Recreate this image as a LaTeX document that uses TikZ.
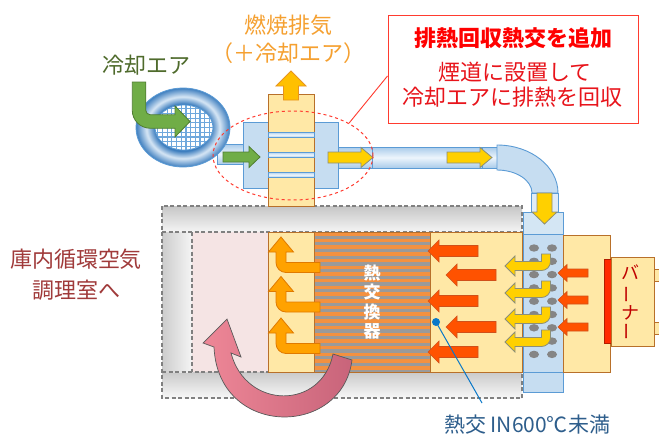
\documentclass[tikz,border=0pt]{standalone}
\usepackage{fontspec}
\setmainfont{Noto Sans CJK JP}
\usetikzlibrary{shapes.geometric}

\definecolor{cream}{HTML}{FFE8A6}
\definecolor{brownline}{HTML}{B8702A}
\definecolor{hestripe}{HTML}{F39140}
\definecolor{hegray}{HTML}{9A9A9A}
\definecolor{ductfill}{HTML}{C6DDF1}
\definecolor{ductline}{HTML}{5B9BD5}
\definecolor{ductlight}{HTML}{EDF5FC}
\definecolor{ductmid}{HTML}{A9CBEA}
\definecolor{fandark}{HTML}{3F7FBF}
\definecolor{fanlight}{HTML}{D6E6F5}
\definecolor{meshblue}{HTML}{6FA8DC}
\definecolor{flame}{HTML}{FF5200}
\definecolor{flameline}{HTML}{D0501A}
\definecolor{burnerred}{HTML}{FF2A00}
\definecolor{hotair}{HTML}{FFA200}
\definecolor{hotairline}{HTML}{E07A00}
\definecolor{exhaust}{HTML}{FFD000}
\definecolor{exhaustline}{HTML}{8C8F78}
\definecolor{fluegas}{HTML}{FFC000}
\definecolor{fluegasline}{HTML}{E8951F}
\definecolor{coolair}{HTML}{70AD47}
\definecolor{coolairline}{HTML}{507E32}
\definecolor{pinkroom}{HTML}{F5E4E4}
\definecolor{pinklight}{HTML}{EE8797}
\definecolor{pinkdark}{HTML}{C8647A}
\definecolor{casing}{HTML}{808080}
\definecolor{txtgreen}{HTML}{4F6B2C}
\definecolor{txtorange}{HTML}{F5A030}
\definecolor{calloutred}{HTML}{FF3B2F}
\definecolor{txtred}{HTML}{E8141B}
\definecolor{txtmaroon}{HTML}{A03A3A}
\definecolor{txtblue}{HTML}{2E5E8C}
\definecolor{leaderblue}{HTML}{0A78C8}
\definecolor{burnertxt}{HTML}{C00000}
\definecolor{holegray}{HTML}{858585}

% blower housing: dark rim, light band in the middle of the ring
\pgfdeclareradialshading{fanring}{\pgfpoint{0bp}{0bp}}{%
  color(0bp)=(fandark); color(15bp)=(fandark); color(19.5bp)=(fanlight);
  color(25bp)=(fandark); color(50bp)=(fandark)}

\tikzset{
  % straight block arrow, tip at the origin, pointing to -x
  pics/arrowbody/.style args={#1/#2/#3/#4}{code={
    \path[pic actions] (0,0) -- (#4,-#3) -- (#4,-#2) -- (#1,-#2) -- (#1,#2)
      -- (#4,#2) -- (#4,#3) -- cycle;}},
  % hook arrow: comes in from the right, turns upward
  pics/hookup/.style={code={
    \path[pic actions] (39,-5) -- (5,-5) -- (5,-15.5) -- (12.5,-15.5) -- (0,-30.5)
      -- (-12.5,-15.5) -- (-5,-15.5) -- (-5,-5)
      arc[start angle=180, end angle=90, radius=10] -- (39,5) -- cycle;}},
  % hook arrow: comes down from above, turns to the left
  pics/hookleft/.style={code={
    \path[pic actions] (-4.5,-12) -- (4.5,-12) -- (4.5,-4.5)
      arc[start angle=0, end angle=90, radius=9] -- (-31,4.5) -- (-31,10)
      -- (-41,0) -- (-31,-10) -- (-31,-4.5) -- (-4.5,-4.5) -- cycle;}},
  ductbox/.style={fill=ductfill, draw=ductline, line width=0.9pt},
  ductpipe/.style={top color=ductmid, bottom color=ductmid, middle color=ductlight,
    draw=ductline, line width=0.9pt},
  creambox/.style={fill=cream, draw=brownline, line width=1pt},
  casingdash/.style={draw=casing, dash pattern=on 4pt off 2.5pt, line width=1.1pt},
  flamearrow/.style={fill=flame, draw=flameline, line width=0.6pt},
  hotarrow/.style={fill=hotair, draw=hotairline, line width=0.8pt},
  exhaustarrow/.style={fill=exhaust, draw=exhaustline, line width=0.8pt},
  coolarrow/.style={fill=coolair, draw=coolairline, line width=0.8pt},
  jp/.style={font=\fontsize{22}{26}\selectfont},
}

\begin{document}
\begin{tikzpicture}[x=1pt,y=-1pt]
\fill[white] (0,0) rectangle (659,434);
\useasboundingbox (0,0) rectangle (659,434);

% ---------- oven casing ----------
\shade[top color=gray!45, bottom color=gray!8] (162,206) rectangle (522,232);
\shade[top color=gray!42, bottom color=gray!6] (162,372) rectangle (522,398);
\shade[left color=gray!40, right color=gray!8] (162,232) rectangle (192,372);
\fill[pinkroom] (192,232) rectangle (268,372);
\draw[casingdash] (162,206) rectangle (522,398);
\draw[casingdash] (162,232) -- (522,232);
\draw[casingdash] (162,372) -- (522,372);
\draw[casingdash] (192,232) -- (192,372);

% air column, heat exchanger, combustion chamber
\draw[creambox] (268,232) rectangle (314,372);
\begin{scope}
  \clip (314,232) rectangle (430,372);
  \fill[hestripe] (314,232) rectangle (430,372);
  \foreach \i in {0,...,20}
    \fill[hegray] (314,{235.5+6.7*\i}) rectangle (430,{238.7+6.7*\i});
\end{scope}
\draw[brownline, line width=1pt] (314,232) rectangle (430,372);
\draw[creambox] (430,232) rectangle (522,372);

\node[text=white, font=\fontsize{17}{19.5}\selectfont\bfseries, align=center,
  inner sep=0] (hename) at (372,302) {熱\\交\\換\\器};

% circulation arrow
\path[draw=gray!70!black, line width=0.7pt, left color=pinklight, right color=pinkdark]
  (352,360) .. controls (342,438) and (218,438) .. (214,347) -- (203,343)
  -- (227,319) -- (241,357) -- (231,353)
  .. controls (246,410) and (322,410) .. (333,354) -- cycle;

% hot air rising in the air column
\foreach \y in {267.5,307,348.5}
  \pic[hotarrow] at (281,\y) {hookup};

% flame arrows in the combustion chamber
\pic[flamearrow] at (428,251) {arrowbody=50/5.5/11/11};
\pic[flamearrow] at (446,275) {arrowbody=50/5.5/11/11};
\pic[flamearrow] at (428,301) {arrowbody=50/5.5/11/11};
\pic[flamearrow] at (446,327) {arrowbody=50/5.5/11/11};
\pic[flamearrow] at (428,352) {arrowbody=50/5.5/11/11};

% ---------- flue with exhaust heat recovery ----------
\draw[ductbox] (243,122) rectangle (268,188);
\draw[ductbox] (314,122) rectangle (338,188);
\draw[creambox] (268,94) rectangle (314,206);
\foreach \y in {132,152,172}
  \draw[ductline, line width=0.8pt, top color=ductmid, bottom color=ductmid,
    middle color=ductlight] (268,\y) rectangle (314,\y+5.5);
\pic[rotate=-90, fill=fluegas, draw=fluegasline, line width=0.8pt]
  at (291,71) {arrowbody=29/7.5/15/15};

% cooling air duct and blower
\draw[ductpipe] (217,144) rectangle (243,164);
\shade[shading=fanring, even odd rule]
  (183,127.5) ellipse[x radius=47, y radius=39.5]
  (184,127.5) ellipse[x radius=29, y radius=22.5];
\begin{scope}
  \clip (184,127.5) ellipse[x radius=29, y radius=22.5];
  \fill[white] (150,100) rectangle (220,155);
  \foreach \g in {0,...,14} {
    \draw[meshblue, line width=1.2pt] ({153+4.7*\g},100) -- ++(0,60);
    \draw[meshblue, line width=1.2pt] (150,{104+4.7*\g}) -- ++(75,0);
  }
\end{scope}
\draw[ductline, line width=0.8pt] (183,127.5) ellipse[x radius=47, y radius=39.5];
\draw[ductline, line width=0.8pt] (184,127.5) ellipse[x radius=29, y radius=22.5];
\path[coolarrow, shift={(139,121.5)}]
  (-6.75,-39.5) -- (6.75,-39.5) -- (6.75,-11.25)
  arc[start angle=180, end angle=90, radius=4.5] -- (36,-6.75) -- (36,-15.5)
  -- (51,0) -- (36,15.5) -- (36,6.75) -- (11.25,6.75)
  arc[start angle=90, end angle=180, radius=18] -- cycle;
\pic[rotate=180, coolarrow] at (260,157) {arrowbody=37/5/10.5/11};

% warmed air duct to the burner
\draw[ductpipe] (338,147) rectangle (497,168);
\draw[ductline, line width=0.9pt] (372,147) -- (372,168);
\draw[ductline, line width=0.9pt] (482,147) -- (482,168);
\draw[ductbox] (497,145) arc[start angle=-90, end angle=0, x radius=61, y radius=48]
  -- (532,193) arc[start angle=0, end angle=-90, x radius=35, y radius=23] -- cycle;
\draw[ductbox, fill=ductfill!55!white] (531,193) rectangle (558,212);
\pic[rotate=180, exhaustarrow] at (373,157.5) {arrowbody=45/5.5/10/12};
\pic[rotate=180, exhaustarrow] at (492,157.5) {arrowbody=45/5.5/10/12};

% perforated air jacket
\draw[ductbox, fill=ductfill!75!white] (523,212) rectangle (563,234);
\draw[ductbox] (523,234) rectangle (563,372);
\draw[ductbox] (523,372) rectangle (563,392);
\foreach \k in {0,...,8} {
  \fill[holegray] (534,{248+13.3*\k}) ellipse[x radius=5, y radius=3.7];
  \fill[holegray] (552,{248+13.3*\k}) ellipse[x radius=5, y radius=3.7];
}
\pic[rotate=90, exhaustarrow] at (544.5,224) {arrowbody=31/7.5/12.5/12};
\foreach \y in {266,293,319,342}
  \pic[exhaustarrow] at (546,\y) {hookleft};

% burner
\draw[creambox] (563,235) rectangle (610,372);
\draw[fill=burnerred, draw=burnerred!70!black, line width=0.6pt] (604,259) rectangle (611,343);
\draw[creambox] (654,269) rectangle (664,281);
\draw[creambox] (654,322) rectangle (664,334);
\draw[creambox] (611,257) rectangle (654,346);
\pic[flamearrow] at (558,273) {arrowbody=30/4/8.5/9};
\pic[flamearrow] at (558,300) {arrowbody=30/4/8.5/9};
\pic[flamearrow] at (558,327) {arrowbody=30/4/8.5/9};
\begin{scope}[text=burnertxt, font=\fontsize{18}{20}\selectfont]
  \node (bn1) at (630,272.5) {バ};
  \node[rotate=90] (bn2) at (630,294) {ー};
  \node (bn3) at (630,312.5) {ナ};
  \node[rotate=90] (bn4) at (630,331) {ー};
\end{scope}

% ---------- labels ----------
\node[ellipse, draw=calloutred, dashed, line width=1pt, inner sep=0,
  minimum width=160pt, minimum height=89pt] (ring) at (293,155.5) {};
\node[draw=calloutred, line width=1pt, fill=white, minimum width=250pt,
  minimum height=108pt] (callout) at (513,69) {};
\draw[calloutred, line width=0.9pt] ([yshift=-7pt]callout.west) -- (ring.30.6);
\node[jp, text=red, font=\fontsize{22}{26}\selectfont\bfseries] (ctitle) at (513,38) {排熱回収熱交を追加};
\node[jp, text=txtred] (cline1) at (515,72) {煙道に設置して};
\node[jp, text=txtred] (cline2) at (512,97) {冷却エアに排熱を回収};

\node[jp, text=txtgreen] (coollabel) at (146.5,65) {冷却エア};
\node[jp, text=txtorange] (flue1) at (288.5,25) {燃焼排気};
\node[jp, text=txtorange] (flue2) at (288.5,53) {（＋冷却エア）};
\node[jp, text=txtmaroon] (room1) at (76,259) {庫内循環空気};
\node[jp, text=txtmaroon] (room2) at (76,290) {調理室へ};

\coordinate (hedot) at (436,322);
\coordinate (leaderend) at (482,403);
\node[text=txtblue, font=\fontsize{21}{25}\selectfont] (hetemp) at (527,425) {熱交 IN600℃未満};
\draw[leaderblue, line width=1pt] (hedot) -- (leaderend);
\fill[leaderblue] (hedot) circle[radius=4];
\end{tikzpicture}
\end{document}
